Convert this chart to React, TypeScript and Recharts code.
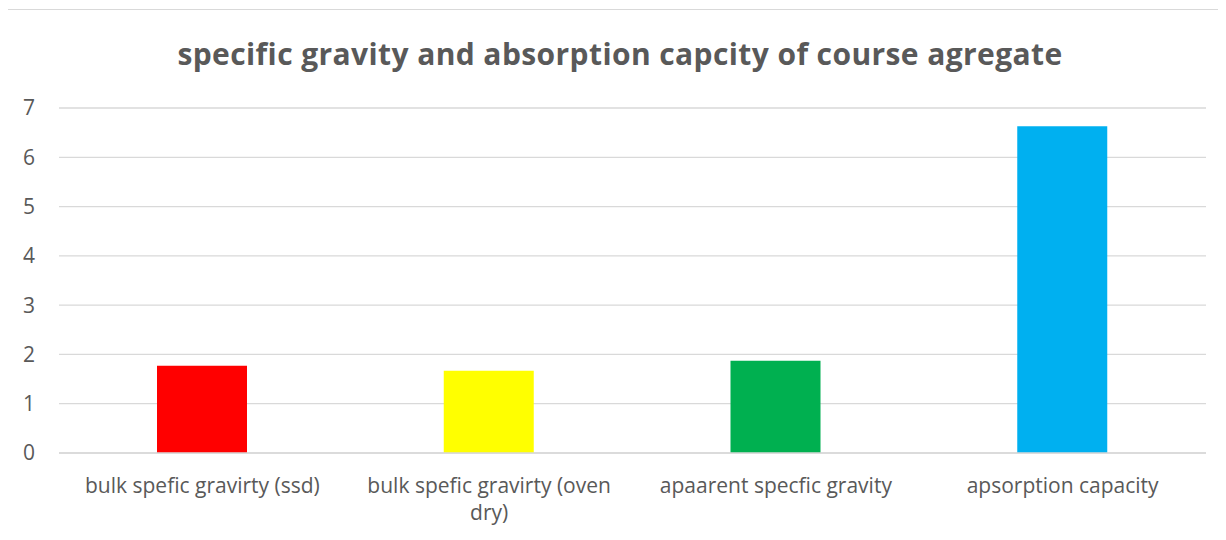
import React from "react";
import { BarChart, Bar, XAxis, YAxis, CartesianGrid, Cell } from "recharts";

const categories = [
  "bulk spefic gravirty (ssd)",
  "bulk spefic gravirty (oven dry)",
  "apaarent specfic gravity",
  "apsorption capacity",
];
const values = [1.77, 1.67, 1.87, 6.63];
const barColors = ["#FF0000", "#FFFF00", "#00B050", "#00B0F0"];
const yTicks = [0, 1, 2, 3, 4, 5, 6, 7];
const title = "specific gravity and absorption capcity of course agregate";

const data = categories.map((name, i) => ({ name, value: values[i] }));

const FONT = "'Open Sans', sans-serif";
const TEXT_COLOR = "#595959";
const GRID_COLOR = "#d9d9d9";
const LABEL_SIZE = 21;
const LABEL_MAX_WIDTH = 270;

let measureCtx: CanvasRenderingContext2D | null = null;
function textWidth(s: string): number {
  if (!measureCtx) {
    measureCtx = document.createElement("canvas").getContext("2d");
  }
  if (!measureCtx) return s.length * LABEL_SIZE * 0.5;
  measureCtx.font = `${LABEL_SIZE}px ${FONT}`;
  return measureCtx.measureText(s).width;
}

// Greedy word wrap so long category names break inside their band.
function wrapWords(s: string, maxWidth: number): string[] {
  const words = s.split(" ");
  const lines: string[] = [];
  let cur = "";
  for (const w of words) {
    const next = cur ? `${cur} ${w}` : w;
    if (cur && textWidth(next) > maxWidth) {
      lines.push(cur);
      cur = w;
    } else {
      cur = next;
    }
  }
  if (cur) lines.push(cur);
  return lines;
}

const CategoryTick = (props: any) => {
  const { x, y, payload } = props;
  const lines = wrapWords(String(payload.value), LABEL_MAX_WIDTH);
  return (
    <text
      x={x}
      y={y + 32}
      textAnchor="middle"
      fill={TEXT_COLOR}
      fontSize={LABEL_SIZE}
      fontFamily={FONT}
    >
      {lines.map((line, i) => (
        <tspan key={i} x={x} dy={i === 0 ? 0 : 27}>
          {line}
        </tspan>
      ))}
    </text>
  );
};

export default function App() {
  return (
    <div style={{ position: "relative", width: 1226, height: 540, margin: -8, background: "#fff", overflow: "hidden" }}>
      <div
        style={{
          position: "absolute",
          left: 7,
          top: 9,
          width: 1240,
          height: 560,
          borderLeft: `1px solid ${GRID_COLOR}`,
          borderTop: `1px solid ${GRID_COLOR}`,
        }}
      />
      <div
        style={{
          position: "absolute",
          left: 0,
          width: 1240,
          top: 33,
          textAlign: "center",
          fontFamily: FONT,
          fontWeight: 700,
          fontSize: 30,
          letterSpacing: 0.4,
          color: TEXT_COLOR,
          whiteSpace: "nowrap",
        }}
      >
        {title}
      </div>
      <div style={{ position: "absolute", left: 0, top: 0 }}>
        <BarChart
          width={1226}
          height={540}
          data={data}
          margin={{ top: 108, right: 20, bottom: 0, left: 0 }}
        >
          <CartesianGrid vertical={false} stroke={GRID_COLOR} strokeWidth={1.3} />
          <YAxis
            width={59}
            domain={[0, 7]}
            ticks={yTicks}
            axisLine={false}
            tickLine={false}
            tickSize={0}
            tickMargin={24}
            tick={{ fill: TEXT_COLOR, fontSize: 21, fontFamily: FONT }}
          />
          <XAxis
            dataKey="name"
            height={87}
            axisLine={{ stroke: GRID_COLOR, strokeWidth: 1.3 }}
            tickLine={false}
            interval={0}
            tick={<CategoryTick />}
          />
          <Bar dataKey="value" barSize={90} isAnimationActive={false}>
            {data.map((d, i) => (
              <Cell key={d.name} fill={barColors[i]} />
            ))}
          </Bar>
        </BarChart>
      </div>
    </div>
  );
}
